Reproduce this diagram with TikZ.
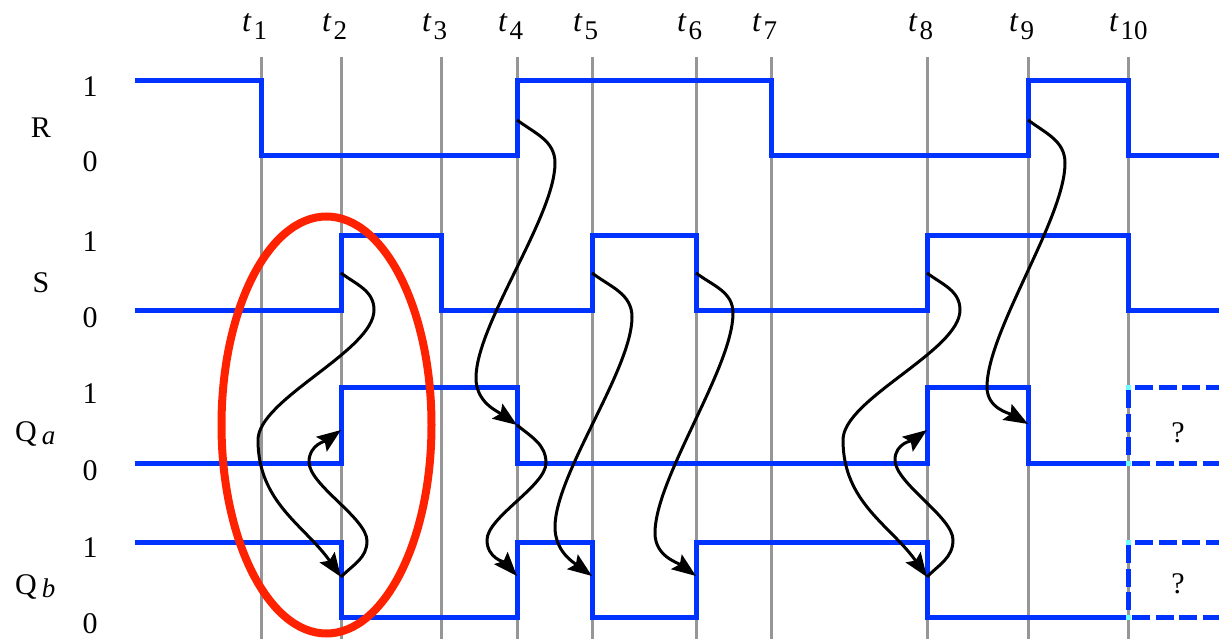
\documentclass[tikz,border=0pt]{standalone}
\usepackage{fontspec}
\setmainfont{Liberation Serif}
\usetikzlibrary{arrows.meta}
\definecolor{sigblue}{RGB}{0,51,255}
\definecolor{ovalred}{RGB}{255,34,0}
\definecolor{gridgray}{RGB}{150,150,150}
\definecolor{cornercyan}{RGB}{110,255,255}
\begin{document}
\begin{tikzpicture}[x=1pt,y=1pt,
  grid/.style={gridgray, line width=3pt},
  sig/.style={sigblue, line width=5pt},
  sigdash/.style={sigblue, line width=5pt, dash pattern=on 18pt off 5.5pt},
  arr/.style={black, line width=3pt, -{Stealth[length=24pt,width=18pt,inset=4pt]}},
  mid/.style={out=-90,in=90,looseness=0.6},
  midup/.style={out=90,in=-90,looseness=0.6},
  oval/.style={ovalred, line width=8pt},
  lab/.style={font=\fontsize{30}{36}\selectfont, inner sep=0pt},
]
\useasboundingbox (0,0) rectangle (1219,-639);

% time grid and labels
\foreach \x/\n in {261/1,341/2,441/3,517/4,592/5,696/6,771/7,927/8,1028/9,1128/10}{
  \draw[grid] (\x,-57) -- (\x,-639);
  \node[lab, anchor=base west] (t\n) at (\x-19,-32)
    {\fontsize{32}{36}\selectfont\textit{t}\kern2pt\raisebox{-8pt}{\fontsize{27}{27}\selectfont \n}};
}

% signals
\draw[sig] (135,-81) -| (261,-156) -| (517,-81) -| (771,-156) -| (1028,-81) -| (1128,-156) -- (1219,-156);
\draw[sig] (135,-311) -| (341,-236) -| (441,-311) -| (592,-236) -| (696,-311) -| (927,-236) -| (1128,-311) -- (1219,-311);
\draw[sig] (135,-463) -| (341,-387) -| (517,-463) -| (927,-387) -| (1028,-463) -- (1128,-463);
\draw[sig] (135,-542) -| (341,-617) -| (517,-542) -| (592,-617) -| (696,-542) -| (927,-617) -- (1128,-617);

% unknown region
\draw[sigdash] (1135,-387) -- (1219,-387);
\draw[sigdash] (1128,-390) -- (1128,-460);
\draw[sigdash] (1132,-463) -- (1219,-463);
\draw[sigdash] (1135,-542) -- (1219,-542);
\draw[sigdash] (1128,-545) -- (1128,-614);
\draw[sigdash] (1132,-617) -- (1219,-617);
\fill[cornercyan] (1125.5,-384.5) rectangle (1130.5,-389.5);
\fill[cornercyan] (1125.5,-460.5) rectangle (1130.5,-465.5);
\fill[cornercyan] (1125.5,-539.5) rectangle (1130.5,-544.5);
\fill[cornercyan] (1125.5,-614.5) rectangle (1130.5,-619.5);
\node[lab, anchor=base] (qaq) at (1178,-442) {?};
\node[lab, anchor=base] (qbq) at (1178,-593) {?};

% arrow end points
\coordinate (s2) at (341,-273);
\coordinate (qa2) at (341,-430);
\coordinate (qb2) at (341,-577);
\coordinate (r4) at (517,-120);
\coordinate (qa4) at (517,-425);
\coordinate (qb4) at (517,-576);
\coordinate (s5) at (592,-273);
\coordinate (qb5) at (592,-576);
\coordinate (s6) at (696,-273);
\coordinate (qb6) at (696,-576);
\coordinate (s8) at (927,-273);
\coordinate (qa8) at (927,-430);
\coordinate (qb8) at (927,-577);
\coordinate (r9) at (1028,-120);
\coordinate (qa9) at (1028,-424);

% causal arrows
\draw[arr] (s2) to[out=-37,in=90] ++(33,-37) to[mid] ++(-116,-130) to[out=-90,in=125] (qb2);
\draw[arr] (qb2) to[out=46,in=-90] ++(26,36) to[midup] ++(-58,79) to[out=90,in=-144] (qa2);
\draw[arr] (r4) to[out=-37,in=90] ++(38,-43) to[mid] ++(-79,-215) to[out=-90,in=145] (qa4);
\draw[arr] (qa4) to[out=-40,in=90] ++(29,-38) to[mid] ++(-59,-77) to[out=-90,in=132] (qb4);
\draw[arr] (s5) to[out=-37,in=90] ++(40,-44) to[mid] ++(-77,-210) to[out=-90,in=144] (qb5);
\draw[arr] (s6) to[out=-37,in=90] ++(37,-40) to[mid] ++(-78,-220) to[out=-90,in=144] (qb6);
\draw[arr] (s8) to[out=-37,in=90] ++(33,-37) to[mid] ++(-117,-130) to[out=-90,in=125] (qb8);
\draw[arr] (qb8) to[out=46,in=-90] ++(26,37) to[midup] ++(-58,80) to[out=90,in=-144] (qa8);
\draw[arr] (r9) to[out=-37,in=90] ++(37,-43) to[mid] ++(-78,-224) to[out=-90,in=150] (qa9);

% highlight
\draw[oval] (326.5,-425) ellipse [x radius=105pt, y radius=208.5pt];

% level labels
\node[lab, anchor=base] (r1) at (90,-97) {1};
\node[lab, anchor=base] (r0) at (90,-172) {0};
\node[lab, anchor=base] (rn) at (41,-138) {R};
\node[lab, anchor=base] (s1) at (90,-252) {1};
\node[lab, anchor=base] (s0) at (90,-327) {0};
\node[lab, anchor=base] (sn) at (41,-293) {S};
\node[lab, anchor=base] (qa1) at (90,-403) {1};
\node[lab, anchor=base] (qa0) at (90,-480) {0};
\node[lab, anchor=base west] (qan) at (15,-441)
  {Q\kern5pt\raisebox{-3pt}{\fontsize{27}{27}\selectfont\itshape a}};
\node[lab, anchor=base] (qb1) at (90,-557) {1};
\node[lab, anchor=base] (qb0) at (90,-633) {0};
\node[lab, anchor=base west] (qbn) at (15,-594)
  {Q\kern5pt\raisebox{-3pt}{\fontsize{27}{27}\selectfont\itshape b}};
\end{tikzpicture}
\end{document}
